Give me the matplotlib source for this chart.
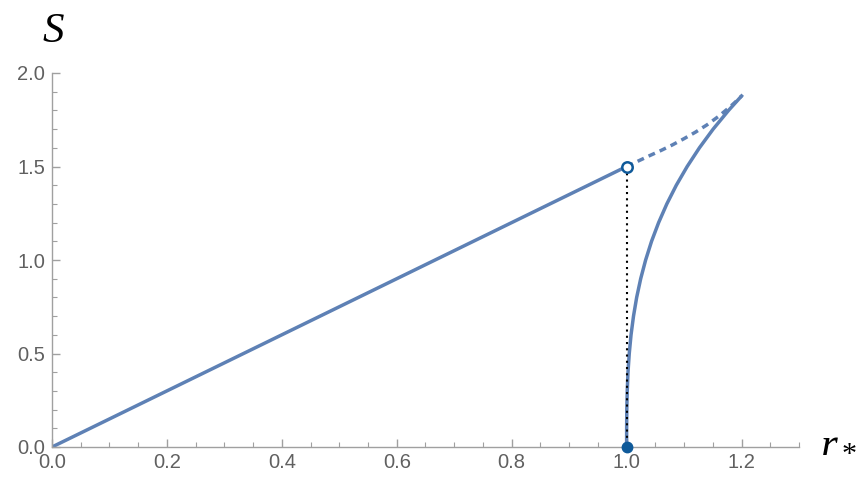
import numpy as np
import matplotlib
matplotlib.use('Agg')
from matplotlib import pyplot as plt
from matplotlib.ticker import MultipleLocator

plt.rcParams['mathtext.fontset'] = 'custom'
plt.rcParams['mathtext.it'] = 'Liberation Serif:italic'
plt.rcParams['mathtext.rm'] = 'Liberation Serif'

# straight branch, r_* in [0, 1]
line_r = [0.0, 1.0]
line_S = [0.0, 1.5]

# dashed branch from the open circle to the cusp
dash_r = [1.0, 1.02, 1.04, 1.06, 1.08, 1.10, 1.12, 1.14, 1.16, 1.18, 1.19, 1.2]
dash_S = [1.5, 1.529, 1.558, 1.586, 1.616, 1.649, 1.684, 1.723, 1.768, 1.819, 1.847, 1.877]

# right branch rising from (1, 0) to the cusp
right_S = [0.0, 0.1, 0.2, 0.3, 0.4, 0.5, 0.6, 0.7, 0.8, 0.9, 1.0,
           1.1, 1.2, 1.3, 1.4, 1.5, 1.6, 1.7, 1.8, 1.877]
right_r = [1.0, 1.00005, 1.0003, 1.0011, 1.0024, 1.0046, 1.0077, 1.0120, 1.0175, 1.0245, 1.0331,
           1.0434, 1.0557, 1.0700, 1.0865, 1.1054, 1.1267, 1.1506, 1.1774, 1.2]

# marked points
open_pt = (1.0, 1.5)
filled_pt = (1.0, 0.0)

line_color = '#5E81B5'
dot_color = '#0F5A9A'
axis_color = '#a0a0a0'
label_color = '#606060'

fig = plt.figure(figsize=(8.68, 4.79), dpi=100)
ax = fig.add_axes([52 / 868, 32 / 479, 747 / 868, 374 / 479])

ax.plot(line_r, line_S, color=line_color, lw=2.5, solid_capstyle='butt')
ax.plot(dash_r, dash_S, color=line_color, lw=2.5, dashes=(2.0, 1.5))
ax.plot(right_r, right_S, color=line_color, lw=2.5)

# dotted vertical guide
ax.plot([open_pt[0], filled_pt[0]], [open_pt[1], filled_pt[1]],
        color='black', lw=1.5, linestyle=(0, (1, 2)))

ax.plot(*open_pt, 'o', ms=7.5, mfc='white', mec=dot_color, mew=1.8, clip_on=False, zorder=5)
ax.plot(*filled_pt, 'o', ms=7.5, color=dot_color, clip_on=False, zorder=5)

ax.set_xlim(0, 1.3)
ax.set_ylim(0, 2.0)
ax.xaxis.set_major_locator(MultipleLocator(0.2))
ax.xaxis.set_minor_locator(MultipleLocator(0.05))
ax.yaxis.set_major_locator(MultipleLocator(0.5))
ax.yaxis.set_minor_locator(MultipleLocator(0.1))
ax.xaxis.set_major_formatter(matplotlib.ticker.FormatStrFormatter('%.1f'))
ax.yaxis.set_major_formatter(matplotlib.ticker.FormatStrFormatter('%.1f'))

for s in ['top', 'right']:
    ax.spines[s].set_visible(False)
for s in ['left', 'bottom']:
    ax.spines[s].set_color(axis_color)
    ax.spines[s].set_linewidth(1.0)

ax.tick_params(which='major', direction='in', length=6, width=1.0, color=axis_color,
               labelsize=14.5, labelcolor=label_color)
ax.tick_params(which='minor', direction='in', length=3.5, width=0.8, color=axis_color)
ax.tick_params(axis='x', which='major', pad=4)
ax.tick_params(axis='y', which='major', pad=5)
for lab in ax.get_xticklabels() + ax.get_yticklabels():
    lab.set_fontfamily('Liberation Sans')

fig.text(53 / 868, 1 - 30 / 479, r'$S$', fontsize=31, ha='center', va='center')
fig.text(820 / 868, 1 - 440 / 479, r'$r_*$', fontsize=31, ha='left', va='center')

fig.savefig('out.png', dpi=100)
